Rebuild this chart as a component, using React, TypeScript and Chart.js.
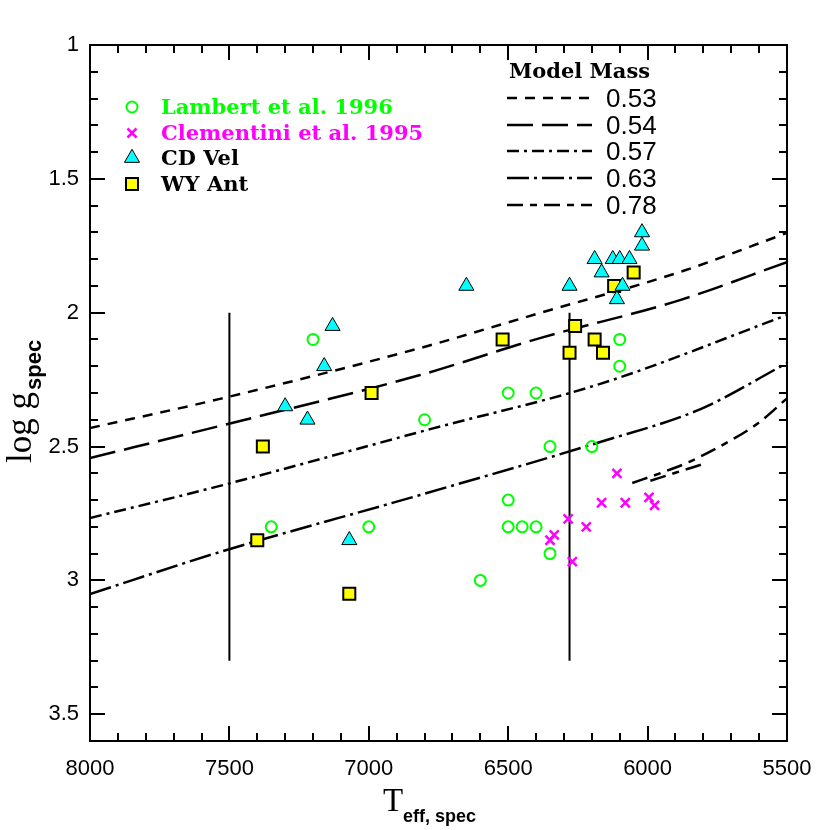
import React, { useEffect, useRef } from 'react';
import { Chart, registerables } from 'chart.js';
Chart.register(...registerables);

// ---- Data ----
const lambertT = [7200, 7350, 7000, 6800, 6500, 6400, 6350, 6200, 6500, 6500, 6450, 6400, 6350, 6600, 6100, 6100];
const lambertG = [2.1, 2.8, 2.8, 2.4, 2.3, 2.3, 2.5, 2.5, 2.7, 2.8, 2.8, 2.8, 2.9, 3.0, 2.1, 2.2];

const clementiniT = [6110, 6165, 6080, 5995, 5975, 6285, 6220, 6350, 6335, 6270];
const clementiniG = [2.6, 2.71, 2.71, 2.69, 2.72, 2.77, 2.8, 2.85, 2.83, 2.93];

const cdVelT = [7130, 7160, 7300, 7220, 7070, 6650, 6020, 6020, 6190, 6125, 6100, 6065, 6165, 6280, 6090, 6110];
const cdVelG = [2.05, 2.2, 2.35, 2.4, 2.85, 1.9, 1.7, 1.75, 1.8, 1.8, 1.8, 1.8, 1.85, 1.9, 1.9, 1.95];

const wyAntT = [7380, 6990, 7400, 7070, 6520, 6280, 6260, 6190, 6160, 6120, 6050];
const wyAntG = [2.5, 2.3, 2.85, 3.05, 2.1, 2.15, 2.05, 2.1, 2.15, 1.9, 1.85];

const model053T = [8000, 7534, 6816, 6386, 5884, 5500];
const model053G = [2.431, 2.322, 2.132, 2.001, 1.848, 1.702];
const model054T = [8000, 7534, 6816, 6386, 5884, 5500];
const model054G = [2.543, 2.423, 2.233, 2.095, 1.953, 1.811];
const model057T = [8000, 7534, 6780, 6170, 5500];
const model057G = [2.767, 2.647, 2.435, 2.266, 2.009];
const model063T = [8000, 7534, 6816, 6170, 5810, 5500];
const model063G = [3.051, 2.894, 2.681, 2.483, 2.36, 2.188];
const model078T = [6055, 5950, 5850, 5700, 5600, 5500];
const model078G = [2.636, 2.598, 2.557, 2.476, 2.41, 2.32];
const model078LoopT = [5990, 5900, 5800];
const model078LoopG = [2.628, 2.598, 2.565];

const vlineT = [7500, 6280];
const vlineG = [2.0, 3.3];

const xTicks = [8000, 7500, 7000, 6500, 6000, 5500];
const yTicks = [1, 1.5, 2, 2.5, 3, 3.5];

const modelLabels = ['0.53', '0.54', '0.57', '0.63', '0.78'];
const modelDashes = [[10, 8], [26, 9], [12, 5, 3, 5], [22, 5, 3, 5], [16, 7, 7, 7]];

const GREEN = '#00ff00';
const MAGENTA = '#ff00ff';
const CYAN = '#00ffff';
const YELLOW = '#ffff00';

const pts = (xs: number[], ys: number[]) => xs.map((x, i) => ({ x, y: ys[i] }));

const lineDs = (xs: number[], ys: number[], dash: number[], label: string) => ({
  type: 'line' as const,
  label,
  data: pts(xs, ys),
  showLine: true,
  borderColor: '#000',
  borderWidth: 2.5,
  borderDash: dash,
  pointRadius: 0,
  fill: false,
  cubicInterpolationMode: 'monotone' as const,
});

const framePlugin = {
  id: 'frameAndDecor',
  afterDraw(chart: any) {
    const { ctx, chartArea: ca, scales } = chart;
    const xs = scales.x;
    const ys = scales.y;
    ctx.save();
    ctx.strokeStyle = '#000';
    ctx.lineWidth = 2;
    ctx.setLineDash([]);
    ctx.strokeRect(ca.left, ca.top, ca.right - ca.left, ca.bottom - ca.top);
    ctx.lineWidth = 2;
    for (let t = 5500; t <= 8000; t += 100) {
      const px = Math.round(xs.getPixelForValue(t));
      const len = t % 500 === 0 ? 15 : 8;
      ctx.beginPath();
      ctx.moveTo(px, ca.bottom);
      ctx.lineTo(px, ca.bottom - len);
      ctx.moveTo(px, ca.top);
      ctx.lineTo(px, ca.top + len);
      ctx.stroke();
    }
    for (let k = 10; k <= 36; k += 1) {
      const v = k / 10;
      const py = Math.round(ys.getPixelForValue(v));
      const len = k % 5 === 0 ? 15 : 8;
      ctx.beginPath();
      ctx.moveTo(ca.left, py);
      ctx.lineTo(ca.left + len, py);
      ctx.moveTo(ca.right, py);
      ctx.lineTo(ca.right - len, py);
      ctx.stroke();
    }

    // symbol legend
    const lx = 132;
    const tx = 161;
    ctx.font = 'bold 21px "DejaVu Serif"';
    ctx.textBaseline = 'alphabetic';
    ctx.textAlign = 'left';
    ctx.beginPath();
    ctx.strokeStyle = GREEN;
    ctx.lineWidth = 2;
    ctx.arc(lx, 107, 5.5, 0, Math.PI * 2);
    ctx.stroke();
    ctx.fillStyle = GREEN;
    ctx.fillText('Lambert et al. 1996', tx, 114);
    ctx.beginPath();
    ctx.strokeStyle = MAGENTA;
    ctx.lineWidth = 2.5;
    ctx.moveTo(lx - 4.5, 133 - 4.5);
    ctx.lineTo(lx + 4.5, 133 + 4.5);
    ctx.moveTo(lx + 4.5, 133 - 4.5);
    ctx.lineTo(lx - 4.5, 133 + 4.5);
    ctx.stroke();
    ctx.fillStyle = MAGENTA;
    ctx.fillText('Clementini et al. 1995', tx, 140);
    const r = 8.7;
    const cy = 158;
    ctx.beginPath();
    ctx.moveTo(lx, cy - r);
    ctx.lineTo(lx + r * Math.sin((2 * Math.PI) / 3), cy + r / 2);
    ctx.lineTo(lx - r * Math.sin((2 * Math.PI) / 3), cy + r / 2);
    ctx.closePath();
    ctx.fillStyle = CYAN;
    ctx.fill();
    ctx.strokeStyle = '#000';
    ctx.lineWidth = 1;
    ctx.stroke();
    ctx.fillStyle = '#000';
    ctx.fillText('CD Vel', tx, 165);
    ctx.fillStyle = YELLOW;
    ctx.fillRect(lx - 6, 184 - 6, 12, 12);
    ctx.strokeStyle = '#000';
    ctx.lineWidth = 2;
    ctx.strokeRect(lx - 6, 184 - 6, 12, 12);
    ctx.fillStyle = '#000';
    ctx.fillText('WY Ant', tx, 191);

    // model legend
    ctx.font = 'bold 21px "DejaVu Serif"';
    ctx.fillText('Model Mass', 509, 78);
    const rowsY = [98, 125, 151, 178, 205];
    ctx.font = '26px "Liberation Sans"';
    rowsY.forEach((y, i) => {
      ctx.beginPath();
      ctx.setLineDash(modelDashes[i]);
      ctx.lineWidth = 2.5;
      ctx.strokeStyle = '#000';
      ctx.moveTo(507, y);
      ctx.lineTo(592, y);
      ctx.stroke();
      ctx.setLineDash([]);
      ctx.fillText(modelLabels[i], 606, y + 9);
    });

    // x title
    ctx.font = '33px "Liberation Serif"';
    ctx.fillText('T', 383, 811);
    ctx.font = 'bold 18px "Liberation Sans"';
    ctx.fillText('eff, spec', 403, 822);

    // y title
    ctx.save();
    ctx.translate(31, 463);
    ctx.rotate(-Math.PI / 2);
    ctx.font = '35px "Liberation Serif"';
    ctx.fillText('log g', 0, 0);
    const w = ctx.measureText('log g').width;
    ctx.font = 'bold 22px "Liberation Sans"';
    ctx.fillText('spec', w + 2, 10);
    ctx.restore();

    ctx.restore();
  },
};

export default function App() {
  const ref = useRef<HTMLCanvasElement>(null);
  useEffect(() => {
    if (!ref.current) return;
    const chart = new Chart(ref.current, {
      type: 'scatter',
      data: {
        datasets: [
          {
            label: 'Lambert et al. 1996',
            data: pts(lambertT, lambertG),
            pointStyle: 'circle',
            pointRadius: 5.5,
            pointBorderWidth: 2,
            borderColor: GREEN,
            backgroundColor: 'rgba(0,0,0,0)',
          },
          {
            label: 'Clementini et al. 1995',
            data: pts(clementiniT, clementiniG),
            pointStyle: 'crossRot',
            pointRadius: 6.4,
            pointBorderWidth: 2.5,
            borderColor: MAGENTA,
            backgroundColor: MAGENTA,
          },
          {
            label: 'CD Vel',
            data: pts(cdVelT, cdVelG),
            pointStyle: 'triangle',
            pointRadius: 8.7,
            pointBorderWidth: 1,
            borderColor: '#000',
            backgroundColor: CYAN,
          },
          {
            label: 'WY Ant',
            data: pts(wyAntT, wyAntG),
            pointStyle: 'rect',
            pointRadius: 8.5,
            pointBorderWidth: 2,
            borderColor: '#000',
            backgroundColor: YELLOW,
          },
          lineDs(model053T, model053G, modelDashes[0], '0.53'),
          lineDs(model054T, model054G, modelDashes[1], '0.54'),
          lineDs(model057T, model057G, modelDashes[2], '0.57'),
          lineDs(model063T, model063G, modelDashes[3], '0.63'),
          lineDs(model078T, model078G, modelDashes[4], '0.78'),
          lineDs(model078LoopT, model078LoopG, modelDashes[4], '0.78 loop'),
          {
            type: 'line' as const,
            label: 'v1',
            data: pts([vlineT[0], vlineT[0]], vlineG),
            borderColor: '#000',
            borderWidth: 2,
            pointRadius: 0,
            showLine: true,
          },
          {
            type: 'line' as const,
            label: 'v2',
            data: pts([vlineT[1], vlineT[1]], vlineG),
            borderColor: '#000',
            borderWidth: 2,
            pointRadius: 0,
            showLine: true,
          },
        ] as any,
      },
      options: {
        animation: false,
        responsive: false,
        layout: { padding: { left: 0, top: 45, right: 43, bottom: 0 } },
        plugins: {
          legend: { display: false },
          tooltip: { enabled: false },
        },
        scales: {
          x: {
            type: 'linear',
            reverse: true,
            min: 5500,
            max: 8000,
            grid: { display: false, drawTicks: false },
            border: { display: false },
            afterBuildTicks: (s: any) => {
              s.ticks = xTicks.map((v) => ({ value: v }));
            },
            afterFit: (s: any) => {
              s.height = 89;
            },
            ticks: {
              color: '#000',
              font: { family: 'Liberation Sans', size: 22 },
              padding: 15,
              maxRotation: 0,
              autoSkip: false,
              callback: (v: any) => String(v),
            },
          },
          y: {
            type: 'linear',
            reverse: true,
            min: 1,
            max: 3.6,
            grid: { display: false, drawTicks: false },
            border: { display: false },
            afterBuildTicks: (s: any) => {
              s.ticks = yTicks.map((v) => ({ value: v }));
            },
            afterFit: (s: any) => {
              s.width = 90;
            },
            ticks: {
              color: '#000',
              font: { family: 'Liberation Sans', size: 22 },
              padding: 11,
              autoSkip: false,
              callback: (v: any) => String(v),
            },
          },
        },
      },
      plugins: [framePlugin],
    });
    return () => chart.destroy();
  }, []);
  return (
    <div style={{ position: 'absolute', left: 0, top: 0, width: 830, height: 830, background: '#fff' }}>
      <canvas ref={ref} width={830} height={830} />
    </div>
  );
}
